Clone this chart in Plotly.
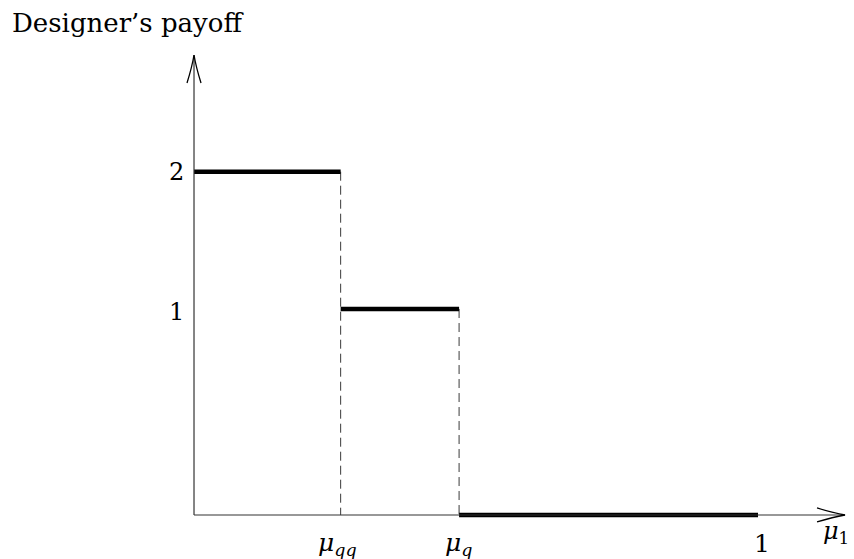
import plotly.graph_objects as go

# Breakpoints of the designer's payoff along the belief axis mu_1
mu_qq = 0.26
mu_q = 0.47
breakpoints = [0.0, mu_qq, mu_q, 1.0]
payoffs = [2, 1, 0]            # payoff on each interval

x_tick_vals = [mu_qq, mu_q, 1.0]
x_tick_text = ["<i>μ</i><sub><i>qq</i></sub>", "<i>μ</i><sub><i>q</i></sub>", "1"]
y_tick_vals = [2, 1]
y_tick_text = ["2", "1"]

# Schematic vertical axis: payoff levels are categories with uneven spacing
level_order = ["0", "gap1", "gap2", "1", "gap3", "2"]

W, H = 854, 559
X_RANGE = [-0.3440, 1.1702]
Y_RANGE = [-0.641, 7.501]
px_x = (X_RANGE[1] - X_RANGE[0]) / W
px_y = (Y_RANGE[1] - Y_RANGE[0]) / H

FONT = "DejaVu Serif"
INK = "#000000"

fig = go.Figure()

# dashed drops from each jump down to the horizontal axis
for i in range(1, len(payoffs)):
    xb = breakpoints[i]
    fig.add_trace(go.Scatter(
        x=[xb, xb], y=[str(payoffs[i - 1]), "0"], mode="lines",
        line=dict(color="#3a3a3a", width=1, dash="9px,5px"),
        hoverinfo="skip", showlegend=False))

# axes with open arrow tips
y_tip = 6.70
x_tip = 1.1543
axis_line = dict(color="#333333", width=1.2)
fig.add_shape(type="line", xref="x", yref="y", x0=0, y0=0, x1=0, y1=y_tip, line=axis_line)
fig.add_shape(type="line", xref="x", yref="y", x0=0, y0=0, x1=x_tip, y1=0, line=axis_line)

head_len, head_half = 28, 7
ya = y_tip - head_len * px_y
fig.add_shape(type="path", xref="x", yref="y",
              path=(f"M {-head_half * px_x},{ya} Q {-2 * px_x},{y_tip - 12 * px_y} 0,{y_tip} "
                    f"Q {2 * px_x},{y_tip - 12 * px_y} {head_half * px_x},{ya}"),
              line=dict(color=INK, width=1.3))
xa = x_tip - head_len * px_x
fig.add_shape(type="path", xref="x", yref="y",
              path=(f"M {xa},{head_half * px_y} Q {x_tip - 12 * px_x},{2 * px_y} {x_tip},0 "
                    f"Q {x_tip - 12 * px_x},{-2 * px_y} {xa},{-head_half * px_y}"),
              line=dict(color=INK, width=1.3))

# payoff segments
seg_x, seg_y = [], []
for i, p in enumerate(payoffs):
    seg_x += [breakpoints[i], breakpoints[i + 1], None]
    seg_y += [str(p), str(p), None]
fig.add_trace(go.Scatter(
    x=seg_x, y=seg_y, mode="lines", line=dict(color=INK, width=4.5),
    hoverinfo="skip", showlegend=False, connectgaps=False))

ann = []
# y tick labels
for v, t, dy in zip(y_tick_vals, y_tick_text, [0, -3]):
    ann.append(dict(x=0, y=level_order.index(str(v)), xref="x", yref="y", text=t,
                    showarrow=False, xanchor="center", yanchor="middle",
                    xshift=-18, yshift=dy, font=dict(family=FONT, size=24, color=INK)))
# x tick labels
for v, t, dx in zip(x_tick_vals, x_tick_text, [-3, -1, 4]):
    ann.append(dict(x=v, y=0, xref="x", yref="y", text=t, showarrow=False,
                    xanchor="center", yanchor="middle", xshift=dx, yshift=-29,
                    font=dict(family=FONT, size=25, color=INK)))
# axis titles
ann.append(dict(x=x_tip, y=0, xref="x", yref="y", text="<i>μ</i><sub>1</sub>",
                showarrow=False, xanchor="center", yanchor="middle",
                xshift=-9, yshift=-18, font=dict(family=FONT, size=24, color=INK)))
ann.append(dict(x=10 / W, y=1 - 23 / H, xref="paper", yref="paper",
                text="Designer’s payoff", showarrow=False, xanchor="left",
                yanchor="middle", font=dict(family=FONT, size=26, color=INK)))

fig.update_layout(
    width=W, height=H, margin=dict(l=0, r=0, t=0, b=0),
    paper_bgcolor="white", plot_bgcolor="white",
    xaxis=dict(range=X_RANGE, visible=False, domain=[0, 1], fixedrange=True),
    yaxis=dict(type="category", categoryorder="array", categoryarray=level_order,
               range=Y_RANGE, visible=False, domain=[0, 1], fixedrange=True),
    annotations=ann, showlegend=False,
)

fig.write_html("out.html")
